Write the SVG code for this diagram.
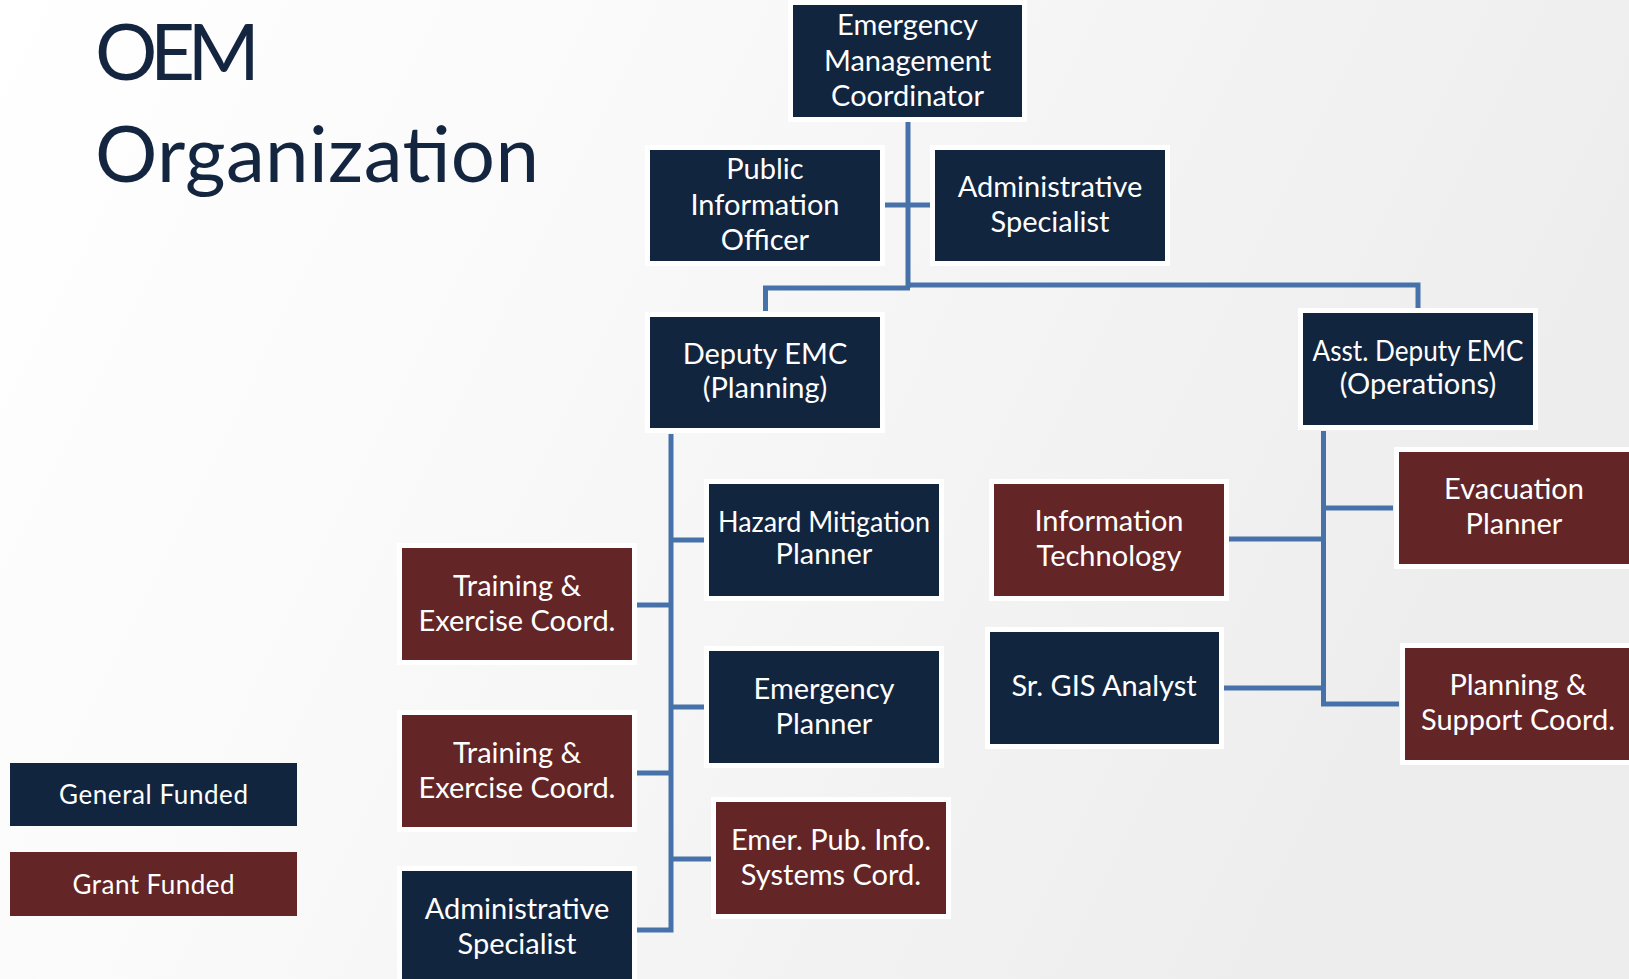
<svg xmlns="http://www.w3.org/2000/svg" width="1629" height="979" viewBox="0 0 1629 979">
<defs>
<linearGradient id="bg" x1="0" y1="0" x2="1" y2="0.3">
<stop offset="0" stop-color="#ffffff"/>
<stop offset="0.35" stop-color="#fafafa"/>
<stop offset="1" stop-color="#ededed"/>
</linearGradient>
<style>
.navy{fill:#12253f;stroke:#ffffff;stroke-width:10;paint-order:stroke}
.maroon{fill:#632526;stroke:#ffffff;stroke-width:10;paint-order:stroke}
.lg-navy{fill:#12253f}
.lg-maroon{fill:#632526}
.t{font-family:Lato,"Open Sans","Liberation Sans",sans-serif;font-size:29px;fill:#ffffff;text-anchor:middle}
.title{font-family:Lato,"Liberation Sans",sans-serif;font-size:78px;font-weight:400;fill:#13253f}
.legend{font-family:Lato,"Liberation Sans",sans-serif;font-size:26px;fill:#ffffff;text-anchor:middle}
.conn{fill:none;stroke:#4672a9;stroke-width:5;stroke-linejoin:miter}
</style>
</defs>
<rect x="0" y="0" width="1629" height="979" fill="url(#bg)"/>
<g id="title">
<text class="title" x="95" y="80" textLength="165">OEM</text>
<text class="title" x="95" y="182" textLength="444">Organization</text>
</g>
<g id="connectors">
<path class="conn" d="M908,122 V288"/>
<path class="conn" d="M885,205 H930"/>
<path class="conn" d="M910,288 H765.5 V311"/>
<path class="conn" d="M906,285 H1418 V308"/>
<path class="conn" d="M671,434 V930 H637"/>
<path class="conn" d="M671,540 H704"/>
<path class="conn" d="M637,605 H671"/>
<path class="conn" d="M671,707 H704"/>
<path class="conn" d="M637,773 H671"/>
<path class="conn" d="M671,859 H711"/>
<path class="conn" d="M1323.5,431 V704 H1399"/>
<path class="conn" d="M1323.5,508 H1393"/>
<path class="conn" d="M1229,539 H1323.5"/>
<path class="conn" d="M1224,688 H1323.5"/>
</g>
<g id="emc">
<rect class="navy" x="793" y="5" width="229" height="112"/>
<text class="t" x="907.5" y="35">Emergency</text>
<text class="t" x="907.5" y="71">Management</text>
<text class="t" x="907.5" y="106">Coordinator</text>
</g>
<g id="pio">
<rect class="navy" x="650" y="150" width="230" height="111"/>
<text class="t" x="765" y="179">Public</text>
<text class="t" x="765" y="215">Information</text>
<text class="t" x="765" y="250">Officer</text>
</g>
<g id="admin-top">
<rect class="navy" x="935" y="150" width="230" height="111"/>
<text class="t" x="1050" y="197">Administrative</text>
<text class="t" x="1050" y="232">Specialist</text>
</g>
<g id="deputy">
<rect class="navy" x="650" y="317" width="230" height="111"/>
<text class="t" x="765" y="364">Deputy EMC</text>
<text class="t" x="765" y="398">(Planning)</text>
</g>
<g id="asst-deputy">
<rect class="navy" x="1303" y="313" width="230" height="112"/>
<text class="t" x="1418" y="361" textLength="211" lengthAdjust="spacingAndGlyphs">Asst. Deputy EMC</text>
<text class="t" x="1418" y="394">(Operations)</text>
</g>
<g id="hazard">
<rect class="navy" x="709" y="484" width="230" height="112"/>
<text class="t" x="824" y="532" textLength="212" lengthAdjust="spacingAndGlyphs">Hazard Mitigation</text>
<text class="t" x="824" y="564">Planner</text>
</g>
<g id="emergency-planner">
<rect class="navy" x="709" y="651" width="230" height="112"/>
<text class="t" x="824" y="699">Emergency</text>
<text class="t" x="824" y="734">Planner</text>
</g>
<g id="emer-pub">
<rect class="maroon" x="716" y="802" width="230" height="112"/>
<text class="t" x="831" y="850">Emer. Pub. Info.</text>
<text class="t" x="831" y="885">Systems Cord.</text>
</g>
<g id="training-1">
<rect class="maroon" x="402" y="548" width="230" height="112"/>
<text class="t" x="517" y="596">Training &amp;</text>
<text class="t" x="517" y="631">Exercise Coord.</text>
</g>
<g id="training-2">
<rect class="maroon" x="402" y="715" width="230" height="112"/>
<text class="t" x="517" y="763">Training &amp;</text>
<text class="t" x="517" y="798">Exercise Coord.</text>
</g>
<g id="admin-bottom">
<rect class="navy" x="402" y="871" width="230" height="115"/>
<text class="t" x="517" y="919">Administrative</text>
<text class="t" x="517" y="954">Specialist</text>
</g>
<g id="info-tech">
<rect class="maroon" x="994" y="484" width="230" height="112"/>
<text class="t" x="1109" y="531">Information</text>
<text class="t" x="1109" y="566">Technology</text>
</g>
<g id="gis">
<rect class="navy" x="990" y="632" width="229" height="112"/>
<text class="t" x="1104" y="696">Sr. GIS Analyst</text>
</g>
<g id="evacuation">
<rect class="maroon" x="1399" y="452" width="240" height="112"/>
<text class="t" x="1514" y="499">Evacuation</text>
<text class="t" x="1514" y="534">Planner</text>
</g>
<g id="planning-support">
<rect class="maroon" x="1405" y="648" width="240" height="112"/>
<text class="t" x="1518" y="695">Planning &amp;</text>
<text class="t" x="1518" y="730">Support Coord.</text>
</g>
<g id="legend-general">
<rect class="lg-navy" x="10" y="763" width="287" height="63"/>
<text class="legend" x="153.5" y="804" textLength="189">General Funded</text>
</g>
<g id="legend-grant">
<rect class="lg-maroon" x="10" y="852" width="287" height="64"/>
<text class="legend" x="153.5" y="894" textLength="162">Grant Funded</text>
</g>
</svg>
